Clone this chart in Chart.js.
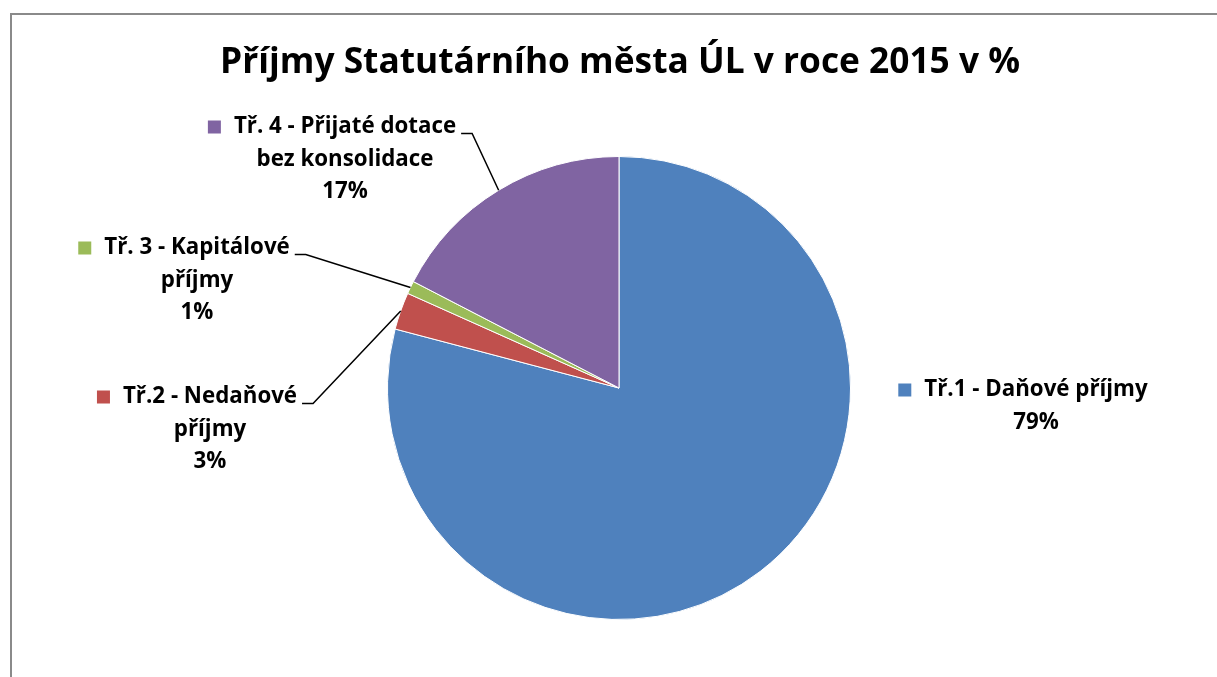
<!DOCTYPE html>
<html>
<head>
<meta charset="utf-8">
<script src="https://cdn.jsdelivr.net/npm/chart.js@4"></script>
<style>
html,body{margin:0;padding:0;background:#fff;}
#wrap{position:relative;width:1217px;height:677px;}
</style>
</head>
<body>
<div id="wrap"><canvas id="c" width="1217" height="677"></canvas></div>
<script>
const title = "Příjmy Statutárního města ÚL v roce 2015 v %";
const categories = ["Tř.1 - Daňové příjmy", "Tř.2 - Nedaňové příjmy", "Tř. 3 - Kapitálové příjmy", "Tř. 4 - Přijaté dotace bez konsolidace"];
const labelLines = [["Tř.1 - Daňové příjmy"], ["Tř.2 - Nedaňové", "příjmy"], ["Tř. 3 - Kapitálové", "příjmy"], ["Tř. 4 - Přijaté dotace", "bez konsolidace"]];
const values = [79.1, 2.6, 0.9, 17.4];
const colors = ["#4F81BD", "#C0504D", "#9BBB59", "#8064A2"];

// label layout: text centre x, first line centre y, leader line?
const labelPos = [
  {cx: 1036, y: 390, leader: false},
  {cx: 210, y: 397, leader: true},
  {cx: 197, y: 248, leader: true},
  {cx: 345, y: 127, leader: true}
];
const FAMILY = '"Open Sans", Lato, sans-serif';
const LH = 32.5;

function fitSize(ctx, text, target, base) {
  ctx.font = 'bold ' + base + 'px ' + FAMILY;
  const w = ctx.measureText(text).width;
  return base * target / w;
}

const decor = {
  id: 'decor',
  beforeDraw(chart) {
    const ctx = chart.ctx;
    ctx.save();
    ctx.strokeStyle = '#8a8a8a';
    ctx.lineWidth = 2;
    ctx.beginPath();
    ctx.moveTo(11, 677);
    ctx.lineTo(11, 14);
    ctx.lineTo(1217, 14);
    ctx.stroke();
    ctx.fillStyle = '#000';
    const ts = fitSize(ctx, title, 800, 36);
    ctx.font = 'bold ' + ts.toFixed(1) + 'px ' + FAMILY;
    ctx.textAlign = 'center';
    ctx.textBaseline = 'middle';
    ctx.fillText(title, 620, 63);
    ctx.restore();
  },
  afterDraw(chart) {
    const ctx = chart.ctx;
    const meta = chart.getDatasetMeta(0);
    const total = values.reduce((a, b) => a + b, 0);
    ctx.save();
    const ls = fitSize(ctx, labelLines[0][0], 223, 20);
    ctx.font = 'bold ' + ls.toFixed(1) + 'px ' + FAMILY;
    ctx.textBaseline = 'middle';
    ctx.textAlign = 'center';
    labelLines.forEach((lines, i) => {
      const p = labelPos[i];
      const pct = Math.round(values[i] / total * 100) + '%';
      const all = lines.concat([pct]);
      ctx.fillStyle = '#000';
      all.forEach((t, k) => ctx.fillText(t, p.cx, p.y + k * LH));
      const w0 = ctx.measureText(lines[0]).width;
      const x0 = p.cx - w0 / 2;
      ctx.fillStyle = colors[i];
      ctx.fillRect(x0 - 26, p.y - 6.5, 13, 13);
      if (p.leader) {
        const arc = meta.data[i];
        const mid = (arc.startAngle + arc.endAngle) / 2;
        const ax = arc.x + Math.cos(mid) * arc.outerRadius;
        const ay = arc.y + Math.sin(mid) * arc.outerRadius;
        const sx = x0 + w0 + 5;
        const sy = p.y + 6.5;
        ctx.strokeStyle = '#000';
        ctx.lineWidth = 1.5;
        ctx.beginPath();
        ctx.moveTo(sx, sy);
        ctx.lineTo(sx + 11, sy);
        ctx.lineTo(ax, ay);
        ctx.stroke();
      }
    });
    ctx.restore();
  }
};

new Chart(document.getElementById('c'), {
  type: 'pie',
  data: {
    labels: categories,
    datasets: [{
      data: values,
      backgroundColor: colors,
      borderColor: '#ffffff',
      borderWidth: 1
    }]
  },
  options: {
    responsive: false,
    animation: false,
    layout: {padding: {left: 387, right: 366, top: 156, bottom: 57}},
    plugins: {
      legend: {display: false},
      tooltip: {enabled: false},
      title: {display: false}
    }
  },
  plugins: [decor]
});
</script>
</body>
</html>
